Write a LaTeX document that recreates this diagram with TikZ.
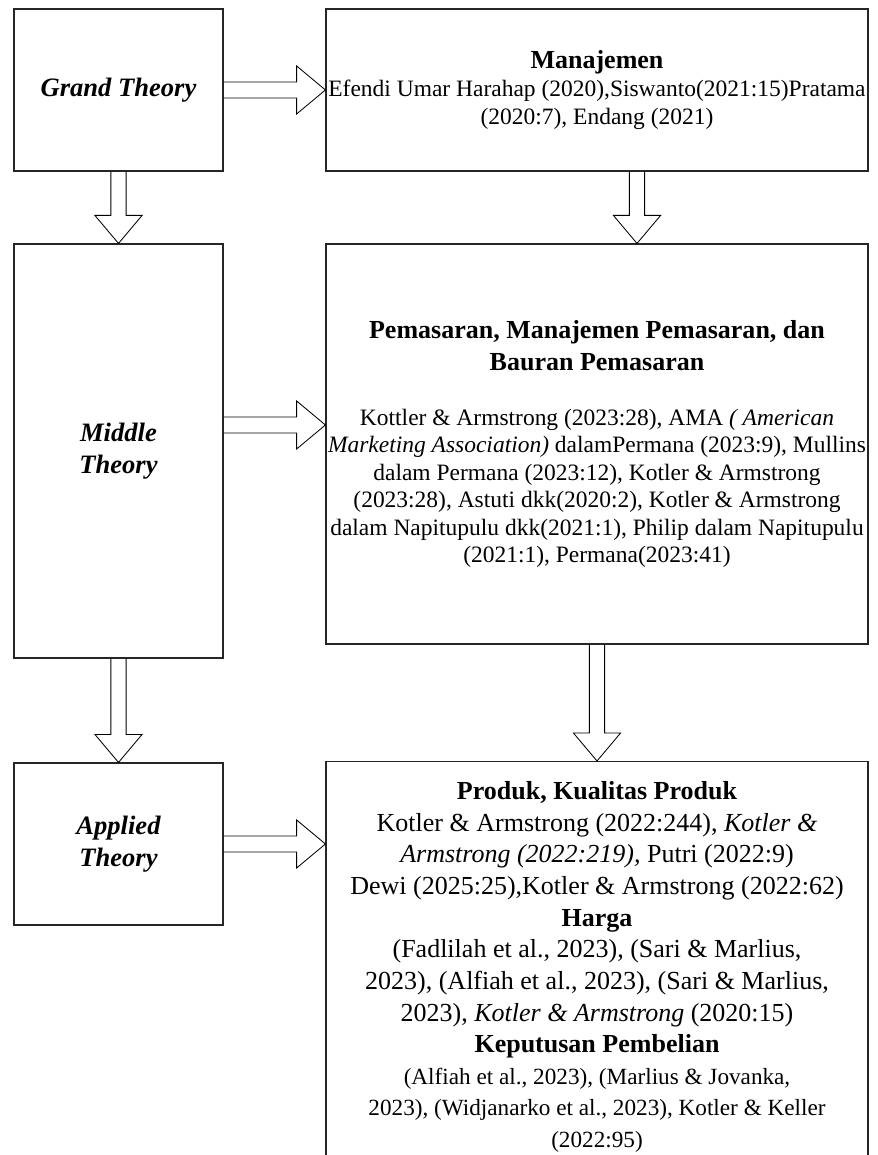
\documentclass[tikz,border=0pt]{standalone}
\usepackage{fontspec}
\setmainfont{Liberation Serif}
\usetikzlibrary{calc}

\tikzset{
  box/.style={draw=black!85, line width=0.8pt, align=center, inner sep=0pt},
  leftbox/.style={box, minimum width=5.225cm, font=\fontsize{18.9}{22.8}\selectfont\bfseries\itshape},
  rightbox/.style={box, minimum width=13.55cm, font=\fontsize{16.7}{19.6}\selectfont},
  fatarrow/.style={draw=black, line width=0.6pt, line join=miter}
}
\newcommand{\ttl}[1]{{\fontsize{18.5}{19.6}\selectfont\bfseries #1}}
\newcommand{\smalltxt}[1]{{\fontsize{16.5}{19.6}\selectfont #1}}

% hollow block arrows: right (from #1 to x of #2) and down (from #1 to y of #2)
\newcommand{\harrow}[2]{\draw[fatarrow] let \p1=(#1), \p2=(#2) in
  (\x1,\y1+0.2cm) -- (\x2-0.72cm,\y1+0.2cm) -- (\x2-0.72cm,\y1+0.6cm) -- (\x2,\y1)
  -- (\x2-0.72cm,\y1-0.6cm) -- (\x2-0.72cm,\y1-0.2cm) -- (\x1,\y1-0.2cm);}
\newcommand{\varrow}[2]{\draw[fatarrow] let \p1=(#1), \p2=(#2) in
  (\x1-0.19cm,\y1) -- (\x1-0.19cm,\y2+0.7cm) -- (\x1-0.59cm,\y2+0.7cm) -- (\x1,\y2)
  -- (\x1+0.59cm,\y2+0.7cm) -- (\x1+0.19cm,\y2+0.7cm) -- (\x1+0.19cm,\y1);}

\begin{document}
\begin{tikzpicture}
    \useasboundingbox (0,0) rectangle (21.925,28.875);
    \clip (0,0) rectangle (21.925,28.875);
    % left column
    \node[leftbox, minimum height=4.05cm] (grand) at (2.9625,26.625) {Grand Theory};
    \node[leftbox, minimum height=10.35cm] (midth) at (2.9625,17.6) {Middle\\Theory};
    \node[leftbox, minimum height=4.05cm] (applied) at (2.9625,7.775) {Applied\\Theory};
    % right column
    \node[rightbox, minimum height=4.05cm] (manaj) at (14.925,26.625) {\ttl{Manajemen}\\
        Efendi Umar Harahap (2020),Siswanto(2021:15)Pratama\\
        (2020:7), Endang (2021)};
    \node[rightbox, minimum height=10.0cm] (pemas) at (14.925,17.775) {\ttl{Pemasaran, Manajemen Pemasaran, dan}\\[3.2pt]
        \ttl{Bauran Pemasaran}\\[19.4pt]
        Kottler \& Armstrong (2023:28), AMA \textit{( American}\\
        \textit{Marketing Association)} dalamPermana (2023:9), Mullins\\
        dalam Permana (2023:12), Kotler \& Armstrong\\
        (2023:28), Astuti dkk(2020:2), Kotler \& Armstrong\\
        dalam Napitupulu dkk(2021:1), Philip dalam Napitupulu\\
        (2021:1), Permana(2023:41)};
    \node[rightbox, anchor=north, inner ysep=0.5cm, font=\fontsize{18.5}{22.5}\selectfont] (produk) at (14.925,9.85) {\ttl{Produk, Kualitas Produk}\\
        Kotler \& Armstrong (2022:244), \textit{Kotler \&}\\
        \textit{Armstrong (2022:219),} Putri (2022:9)\\
        Dewi (2025:25),Kotler \& Armstrong (2022:62)\\
        \ttl{Harga}\\
        (Fadlilah et al., 2023), (Sari \& Marlius,\\
        2023), (Alfiah et al., 2023), (Sari \& Marlius,\\
        2023), \textit{Kotler \& Armstrong} (2020:15)\\
        \ttl{Keputusan Pembelian}\\
        \smalltxt{(Alfiah et al., 2023), (Marlius \& Jovanka,}\\
        \smalltxt{2023), (Widjanarko et al., 2023), Kotler \& Keller}\\
        \smalltxt{(2022:95)}\\[1cm]};
    % arrows
    \harrow{grand.east}{manaj.west}
    \harrow{$(midth.east)+(0,0.65)$}{pemas.west}
    \harrow{applied.east}{produk.west}
    \varrow{grand.south}{midth.north}
    \varrow{midth.south}{applied.north}
    \varrow{$(manaj.south)+(1,0)$}{pemas.north}
    \varrow{pemas.south}{produk.north}
\end{tikzpicture}
\end{document}
